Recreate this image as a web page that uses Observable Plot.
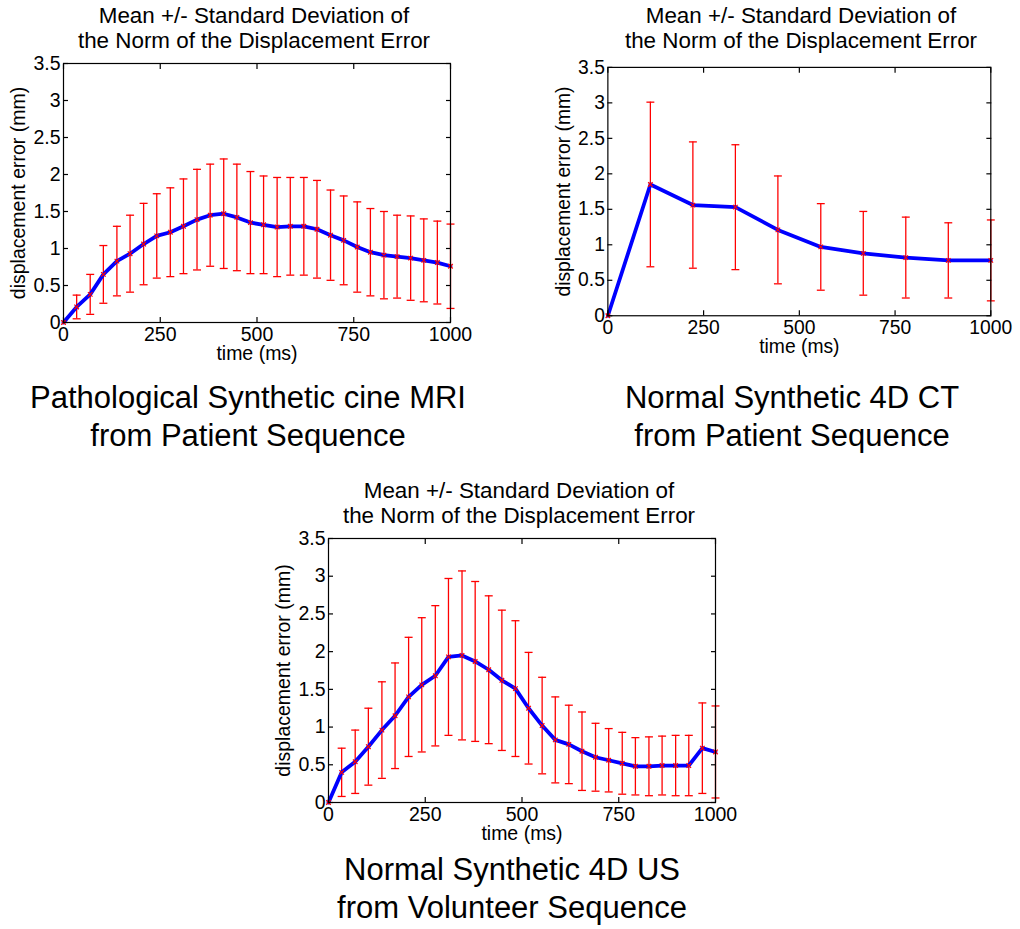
<!DOCTYPE html>
<html><head><meta charset="utf-8">
<script src="https://cdn.jsdelivr.net/npm/d3@7"></script>
<script src="https://cdn.jsdelivr.net/npm/@observablehq/plot@0.6"></script>
<style>
body{margin:0;background:#fff;font-family:"Liberation Sans",Arial,sans-serif;}
#root{position:relative;width:1020px;height:929px;overflow:hidden;background:#fff;}
.title{position:absolute;font-size:22.4px;line-height:25px;text-align:center;white-space:nowrap;color:#000;transform:translateX(-50%);}
.caption{position:absolute;font-size:31px;line-height:38px;text-align:center;white-space:nowrap;color:#000;transform:translateX(-50%);}
.panel{position:absolute;}
.panel svg{overflow:visible;}
</style></head><body><div id="root"></div>
<script>
// ---- data ----
const xTicks = [0, 250, 500, 750, 1000];
const yTicks = [0, 0.5, 1, 1.5, 2, 2.5, 3, 3.5];
const xLabel = "time (ms)";
const yLabel = "displacement error (mm)";
const titleLines = ["Mean +/- Standard Deviation of", "the Norm of the Displacement Error"];

const time30 = [0, 34, 69, 103, 138, 172, 207, 241, 276, 310, 345, 379, 414, 448, 483, 517, 552, 586, 621, 655, 690, 724, 759, 793, 828, 862, 897, 931, 966, 1000];
const time10 = [0, 111, 222, 333, 444, 556, 667, 778, 889, 1000];

const mriMean = [0, 0.21, 0.38, 0.65, 0.83, 0.93, 1.06, 1.17, 1.22, 1.30, 1.39, 1.45, 1.47, 1.42, 1.35, 1.32, 1.29, 1.30, 1.30, 1.26, 1.18, 1.11, 1.02, 0.95, 0.91, 0.89, 0.87, 0.84, 0.81, 0.76];
const mriStd  = [0, 0.16, 0.27, 0.39, 0.47, 0.52, 0.55, 0.57, 0.60, 0.64, 0.68, 0.69, 0.74, 0.72, 0.69, 0.66, 0.67, 0.66, 0.66, 0.66, 0.61, 0.60, 0.61, 0.59, 0.59, 0.56, 0.57, 0.56, 0.56, 0.57];

const ctMean = [0, 1.85, 1.56, 1.53, 1.21, 0.97, 0.88, 0.82, 0.78, 0.78];
const ctStd  = [0, 1.16, 0.89, 0.88, 0.76, 0.61, 0.59, 0.57, 0.53, 0.57];

const usMean = [0, 0.40, 0.54, 0.74, 0.96, 1.15, 1.40, 1.56, 1.68, 1.93, 1.95, 1.87, 1.76, 1.62, 1.51, 1.25, 1.02, 0.83, 0.77, 0.68, 0.60, 0.56, 0.52, 0.48, 0.48, 0.49, 0.49, 0.49, 0.72, 0.67];
const usStd  = [0, 0.32, 0.42, 0.51, 0.64, 0.70, 0.79, 0.89, 0.93, 1.04, 1.12, 1.06, 0.98, 0.93, 0.90, 0.74, 0.64, 0.57, 0.52, 0.52, 0.45, 0.42, 0.41, 0.38, 0.39, 0.39, 0.40, 0.40, 0.60, 0.61];

const captionMri = ["Pathological Synthetic cine MRI", "from Patient Sequence"];
const captionCt = ["Normal Synthetic 4D CT", "from Patient Sequence"];
const captionUs = ["Normal Synthetic 4D US", "from Volunteer Sequence"];

// ---- drawing ----
const root = document.getElementById("root");
const FONT = '"Liberation Sans", Arial, sans-serif';
const capSymbol = {draw(ctx, size) { const r = Math.sqrt(size / Math.PI); ctx.moveTo(-r, 0); ctx.lineTo(r, 0); }};

function addText(cls, lines, cx, top) {
  const d = document.createElement("div");
  d.className = cls;
  d.style.left = cx + "px";
  d.style.top = top + "px";
  d.innerHTML = lines.map(s => s.replace(/</g, "&lt;")).join("<br>");
  root.appendChild(d);
}

function panel({time, mean, std, plotLeft, plotTop, plotW, plotH, xLabelDy}) {
  const ml = 60, mr = 30, mt = 10, mb = 50;
  const data = time.map((t, i) => ({t, m: mean[i], s: std[i]}));
  const bars = data.filter(d => d.s > 0);
  const red = "#ff0000";
  const svg = Plot.plot({
    width: plotW + ml + mr, height: plotH + mt + mb,
    marginLeft: ml, marginRight: mr, marginTop: mt, marginBottom: mb,
    x: {domain: [0, 1000]},
    y: {domain: [0, 3.5]},
    style: {fontFamily: FONT, fontSize: "19.5px", color: "#000", background: "transparent", overflow: "visible"},
    marks: [
      Plot.ruleX(bars, {x: "t", y1: d => d.m - d.s, y2: d => d.m + d.s, stroke: red, strokeWidth: 1.3}),
      Plot.dot(bars, {x: "t", y: d => d.m + d.s, symbol: capSymbol, r: 4, fill: "none", stroke: red, strokeWidth: 1.3}),
      Plot.dot(bars, {x: "t", y: d => d.m - d.s, symbol: capSymbol, r: 4, fill: "none", stroke: red, strokeWidth: 1.3}),
      Plot.line(data, {x: "t", y: "m", stroke: "#0000ff", strokeWidth: 3.8, strokeLinejoin: "round"}),
      Plot.dot(data, {x: "t", y: "m", symbol: "times", r: 2.2, fill: "none", stroke: red, strokeWidth: 1.2}),
      Plot.frame({stroke: "#000", strokeWidth: 1.2}),
      Plot.axisX(xTicks, {anchor: "bottom", tickSize: -5, tickFormat: () => "", label: null, strokeWidth: 1.2}),
      Plot.axisX(xTicks, {anchor: "top", tickSize: -5, tickFormat: () => "", label: null, strokeWidth: 1.2}),
      Plot.axisY(yTicks, {anchor: "left", tickSize: -5, tickFormat: () => "", label: null, strokeWidth: 1.2}),
      Plot.axisY(yTicks, {anchor: "right", tickSize: -5, tickFormat: () => "", label: null, strokeWidth: 1.2}),
      Plot.axisX(xTicks, {anchor: "bottom", tickSize: 0, tickPadding: 5, tickFormat: d => String(d), label: null, fill: "#000"}),
      Plot.axisY(yTicks, {anchor: "left", tickSize: 0, tickPadding: 3, tickFormat: d => String(d), label: null, fill: "#000"}),
      Plot.text([xLabel], {text: d => d, frameAnchor: "bottom", dy: xLabelDy, fill: "#000"}),
      Plot.text([yLabel], {text: d => d, frameAnchor: "left", textAnchor: "middle", dx: -45, rotate: -90, fill: "#000"})
    ]
  });
  const wrap = document.createElement("div");
  wrap.className = "panel";
  wrap.style.left = (plotLeft - ml) + "px";
  wrap.style.top = (plotTop - mt) + "px";
  wrap.appendChild(svg);
  root.appendChild(wrap);
}

panel({time: time30, mean: mriMean, std: mriStd, plotLeft: 63, plotTop: 63, plotW: 387, plotH: 259, xLabelDy: 37});
panel({time: time10, mean: ctMean, std: ctStd, plotLeft: 608, plotTop: 67, plotW: 387, plotH: 251, xLabelDy: 38});
panel({time: time30, mean: usMean, std: usStd, plotLeft: 328, plotTop: 538, plotW: 387, plotH: 264, xLabelDy: 37});

addText("title", titleLines, 254, 3);
addText("title", titleLines, 801, 3);
addText("title", titleLines, 519, 478);
addText("caption", captionMri, 248, 379);
addText("caption", captionCt, 792, 379);
addText("caption", captionUs, 512, 851);
</script>
</body></html>
